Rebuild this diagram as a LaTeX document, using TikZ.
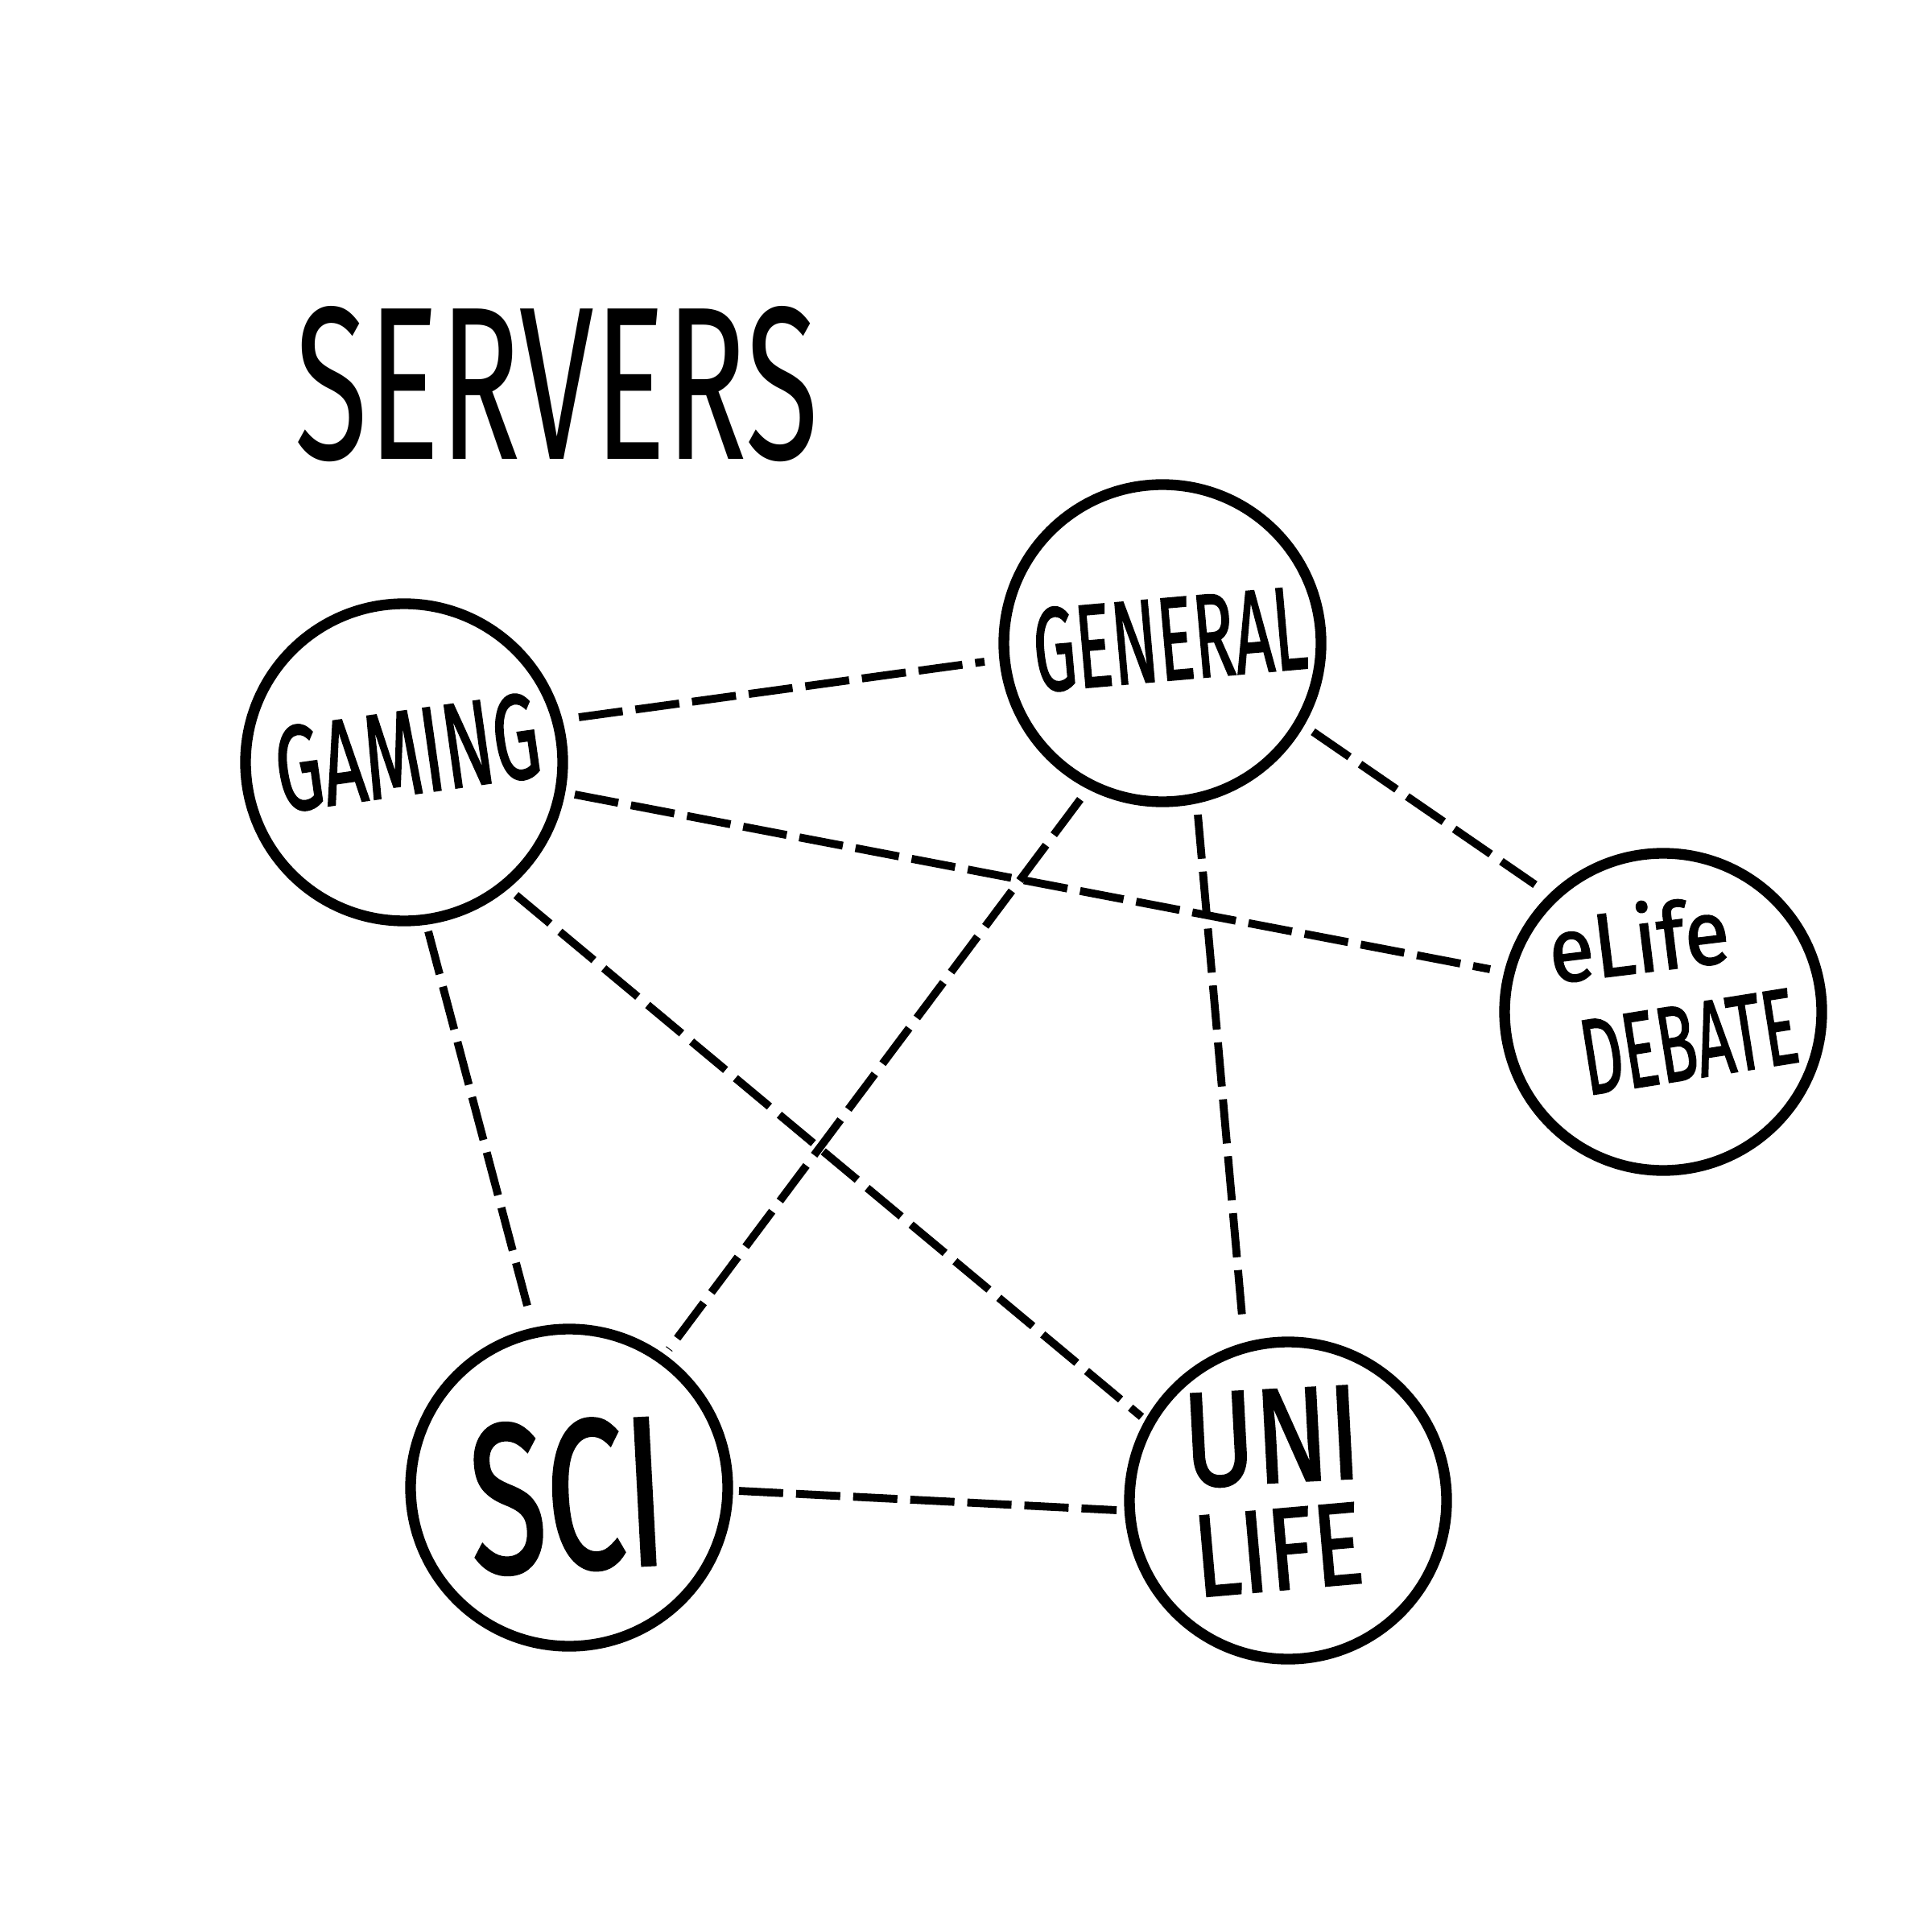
\documentclass[tikz,border=0pt]{standalone}
\usepackage{fontspec}
\usepackage{graphicx}
\setmainfont{Fira Sans}
\newfontfamily\handfont{Fira Sans}[FakeBold=1.6]
\usetikzlibrary{calc}
\begin{document}
\begin{tikzpicture}[x=1cm,y=1cm,
  server/.style={circle, draw, line width=3.8pt, minimum size=3.94cm, inner sep=0pt},
  link/.style={line width=2.8pt, dash pattern=on 0.55cm off 0.16cm},
  hand/.style={inner sep=0pt, font=\handfont}]
\fill[white] (0,0) rectangle (24,-24);
\useasboundingbox (0,0) rectangle (24,-24);

% title
\node[inner sep=0pt] (title) at (6.92,-4.77) {\resizebox{6.5cm}{1.9cm}{SERVERS}};

% servers
\node[server] (gaming)  at (5.02,-9.47)  {};
\node[server] (general) at (14.44,-7.99) {};
\node[server] (elife)   at (20.66,-12.57) {};
\node[server] (sci)     at (7.07,-18.48) {};
\node[server] (uni)     at (16.00,-18.64) {};

% labels
\node[hand, rotate=8] (tgaming) at ([shift={(0.04,0.12)}]gaming.center) {\resizebox{3.3cm}{1.05cm}{GAMING}};
\node[hand, rotate=5] (tgeneral) at ([shift={(0.09,0.05)}]general.center) {\resizebox{3.4cm}{1.03cm}{GENERAL}};
\node[hand, rotate=7] (telife) at ([shift={(-0.31,0.92)}]elife.center) {\resizebox{2.25cm}{0.88cm}{eLife}};
\node[hand, rotate=9] (tdebate) at ([shift={(0.32,-0.37)}]elife.center) {\resizebox{2.7cm}{0.92cm}{DEBATE}};
\node[hand, rotate=3] (tsci) at ([shift={(-0.02,-0.10)}]sci.center) {\resizebox{2.44cm}{1.85cm}{SCI}};
\node[hand, rotate=3] (tuni) at ([shift={(-0.20,0.79)}]uni.center) {\resizebox{2.2cm}{1.15cm}{UNI}};
\node[hand, rotate=5] (tlife) at ([shift={(-0.12,-0.61)}]uni.center) {\resizebox{2.1cm}{1.0cm}{LIFE}};

% connections
\draw[link] ([shift={(14.47:2.241)}]gaming.center) -- ([shift={(185.94:2.222)}]general.center);
\draw[link] ([shift={(349.32:2.157)}]gaming.center) -- ([shift={(166.15:2.214)}]elife.center);
\draw[link] ([shift={(278.13:2.121)}]gaming.center) -- ([shift={(102.82:2.164)}]sci.center);
\draw[link] ([shift={(310.11:2.157)}]gaming.center) -- ([shift={(150.26:2.096)}]uni.center);
\draw[link] ([shift={(242.26:2.192)}]general.center) -- ([shift={(54.21:2.120)}]sci.center);
\draw[link] ([shift={(281.67:2.175)}]general.center) -- ([shift={(104.47:2.241)}]uni.center);
\draw[link] ([shift={(329.53:2.170)}]general.center) -- ([shift={(135.17:2.242)}]elife.center);
\draw[link] ([shift={(358.91:2.110)}]sci.center) -- ([shift={(183.22:2.133)}]uni.center);
\end{tikzpicture}
\end{document}
